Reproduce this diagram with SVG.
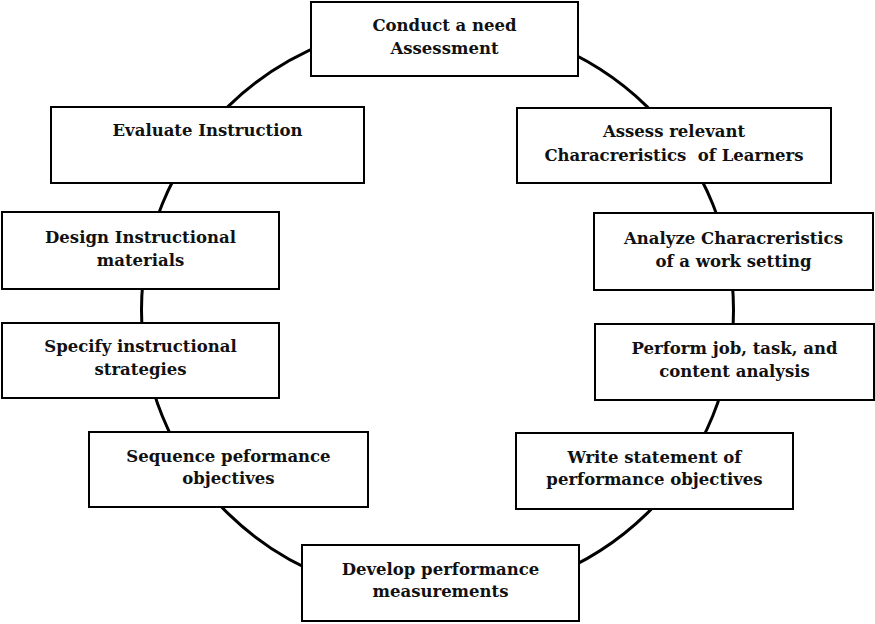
<svg xmlns="http://www.w3.org/2000/svg" width="875" height="624" viewBox="0 0 875 624">
  <style>
    .box { fill: #ffffff; stroke: #000000; stroke-width: 2; }
    .cycle { fill: none; stroke: #000000; stroke-width: 3; }
    .label { font-family: "DejaVu Serif", "Liberation Serif", serif; font-weight: bold; font-size: 16.5px; fill: #111111; text-anchor: middle; }
  </style>
  <rect width="875" height="624" fill="#ffffff"/>

  <!-- cycle line running behind the steps -->
  <g id="connectors">
    <ellipse class="cycle" cx="437.5" cy="310" rx="296" ry="288"/>
  </g>

  <g id="need-assessment">
    <rect class="box" x="311" y="2" width="267" height="74"/>
    <text class="label" x="444.5" y="31">Conduct a need</text>
    <text class="label" x="444.5" y="54">Assessment</text>
  </g>

  <g id="assess-learners">
    <rect class="box" x="517" y="108" width="314" height="75"/>
    <text class="label" x="674" y="137">Assess relevant</text>
    <text class="label" x="674" y="161" xml:space="preserve">Characreristics  of Learners</text>
  </g>

  <g id="analyze-work-setting">
    <rect class="box" x="594" y="213" width="279" height="77"/>
    <text class="label" x="733.5" y="244">Analyze Characreristics</text>
    <text class="label" x="733.5" y="267">of a work setting</text>
  </g>

  <g id="job-task-analysis">
    <rect class="box" x="595" y="324" width="279" height="76"/>
    <text class="label" x="734.5" y="354">Perform job, task, and</text>
    <text class="label" x="734.5" y="377">content analysis</text>
  </g>

  <g id="write-objectives">
    <rect class="box" x="516" y="433" width="277" height="76"/>
    <text class="label" x="654.5" y="463">Write statement of</text>
    <text class="label" x="654.5" y="485">performance objectives</text>
  </g>

  <g id="develop-measurements">
    <rect class="box" x="302" y="545" width="277" height="76"/>
    <text class="label" x="440.5" y="575">Develop performance</text>
    <text class="label" x="440.5" y="597">measurements</text>
  </g>

  <g id="sequence-objectives">
    <rect class="box" x="89" y="432" width="279" height="75"/>
    <text class="label" x="228.5" y="462">Sequence peformance</text>
    <text class="label" x="228.5" y="484">objectives</text>
  </g>

  <g id="instructional-strategies">
    <rect class="box" x="2" y="323" width="277" height="75"/>
    <text class="label" x="140.5" y="352">Specify instructional</text>
    <text class="label" x="140.5" y="375">strategies</text>
  </g>

  <g id="instructional-materials">
    <rect class="box" x="2" y="212" width="277" height="77"/>
    <text class="label" x="140.5" y="243">Design Instructional</text>
    <text class="label" x="140.5" y="266">materials</text>
  </g>

  <g id="evaluate-instruction">
    <rect class="box" x="51" y="107" width="313" height="76"/>
    <text class="label" x="207.5" y="136">Evaluate Instruction</text>
  </g>
</svg>
